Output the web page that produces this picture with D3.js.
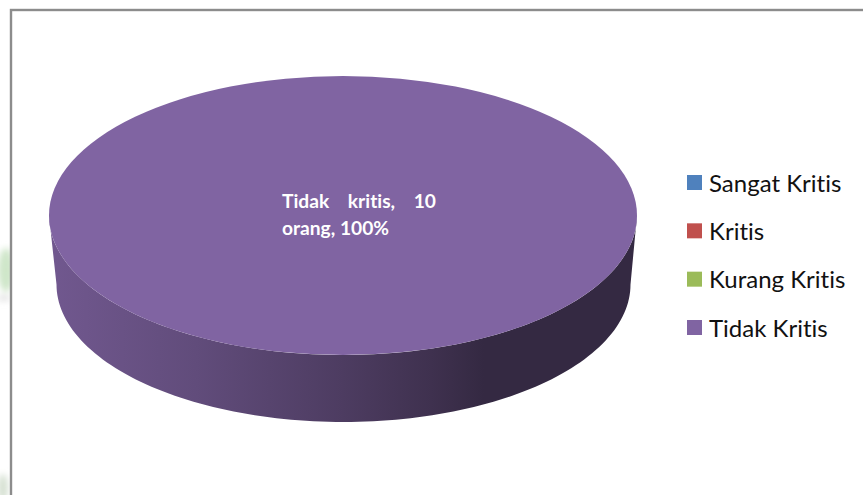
<!DOCTYPE html>
<html>
<head>
<meta charset="utf-8">
<style>
  html, body { margin: 0; padding: 0; background: #fff; overflow: hidden; }
  svg { display: block; }
  text { font-family: Lato, "Open Sans", sans-serif; font-variant-ligatures: none; }
</style>
<script src="https://cdn.jsdelivr.net/npm/d3@7/dist/d3.min.js"></script>
</head>
<body>
<svg id="chart" width="863" height="495"></svg>
<script>
// Critical-thinking categories and respondent counts
const categories = ["Sangat Kritis", "Kritis", "Kurang Kritis", "Tidak Kritis"];
const counts = [0, 0, 0, 10];
const colors = ["#4f81bd", "#c0504d", "#9bbb59", "#8064a2"];
const dataLabelLines = ["Tidak kritis, 10", "orang, 100%"];

const svg = d3.select("#chart");

// Faint decoration showing outside the chart frame
const defs = svg.append("defs");
defs.append("filter").attr("id", "soft").attr("x", "-60%").attr("y", "-60%")
  .attr("width", "220%").attr("height", "220%")
  .append("feGaussianBlur").attr("stdDeviation", 3);
const deco = svg.append("g").attr("filter", "url(#soft)");
deco.append("ellipse").attr("cx", 6).attr("cy", 270).attr("rx", 8).attr("ry", 22).attr("fill", "#cfe6c9");
deco.append("ellipse").attr("cx", 4).attr("cy", 298).attr("rx", 7).attr("ry", 3).attr("fill", "#e2e2e2");
deco.append("ellipse").attr("cx", 3).attr("cy", 488).attr("rx", 5).attr("ry", 14).attr("fill", "#d5e0d1");

// Chart frame: top and left edges are visible, the rest runs off the page
svg.append("rect").attr("x", 11).attr("y", 10).attr("width", 900).attr("height", 600)
  .attr("fill", "#fff").attr("stroke", "#8c8c8c").attr("stroke-width", 2.4);

// Pie geometry: the disc is an ellipse, its lower rim is slightly narrower
const top_ = { cx: 343, cy: 215.5, rx: 294, ry: 139.5 };
const rim = { cx: 343.5, cy: 284.5, rx: 287, ry: 137.5 };

const pie = d3.pie().sort(null).value(d => d);
const slices = pie(counts);
const radius = d3.scaleLinear().domain([0, 1]).range([0, top_.rx]);
const arc = d3.arc().innerRadius(0).outerRadius(radius(1));

// Wall gradient runs from the lit left side to the shaded right side
const wallShades = [
  { offset: 0, k: 0.88 },
  { offset: 0.25, k: 0.76 },
  { offset: 0.5, k: 0.6 },
  { offset: 0.65, k: 0.49 },
  { offset: 0.74, k: 0.41 },
  { offset: 1, k: 0.41 }
];

function wallPath(slice) {
  const p = d3.path();
  // Only the front half of the disc (right through bottom to left) shows a wall
  const a0 = Math.max(slice.startAngle, Math.PI / 2);
  const a1 = Math.min(slice.endAngle, Math.PI * 1.5);
  if (a1 <= a0) return null;
  const angles = d3.range(0, 121).map(i => a0 + (a1 - a0) * i / 120);
  angles.forEach((a, i) => {
    const x = top_.cx + top_.rx * Math.sin(a);
    const y = top_.cy - top_.ry * Math.cos(a);
    if (i) p.lineTo(x, y); else p.moveTo(x, y);
  });
  angles.slice().reverse().forEach(a => {
    p.lineTo(rim.cx + rim.rx * Math.sin(a), rim.cy - rim.ry * Math.cos(a));
  });
  p.closePath();
  return p.toString();
}

slices.forEach((s, i) => {
  if (s.value === 0) return;
  const c = d3.rgb(colors[i]);
  const id = "wall" + i;
  const grad = defs.append("linearGradient").attr("id", id)
    .attr("gradientUnits", "userSpaceOnUse")
    .attr("x1", top_.cx - top_.rx).attr("x2", top_.cx + top_.rx).attr("y1", 0).attr("y2", 0);
  wallShades.forEach(w => {
    grad.append("stop").attr("offset", w.offset)
      .attr("stop-color", d3.rgb(c.r * w.k, c.g * w.k, c.b * w.k).formatHex());
  });
  svg.append("path").attr("d", wallPath(s)).attr("fill", `url(#${id})`);
});

// Top face: the d3 arcs are flattened into the ellipse
svg.append("g")
  .attr("transform", `translate(${top_.cx},${top_.cy}) scale(1,${top_.ry / top_.rx})`)
  .selectAll("path")
  .data(slices.filter(s => s.value > 0))
  .join("path")
  .attr("d", arc)
  .attr("fill", d => colors[d.index]);

// Data label
svg.append("g").selectAll("text")
  .data(dataLabelLines)
  .join("text")
  .attr("x", 282)
  .attr("y", (d, i) => 208 + i * 27)
  .attr("fill", "#fff")
  .attr("font-size", 19.2)
  .attr("font-weight", 700)
  .attr("word-spacing", (d, i) => i === 0 ? 14 : 0)
  .text(d => d);

// Legend
const legendY = d3.scalePoint().domain(categories).range([182.5, 327.5]);
const legend = svg.append("g").selectAll("g")
  .data(categories)
  .join("g")
  .attr("transform", d => `translate(687,${legendY(d)})`);
legend.append("rect")
  .attr("x", 0).attr("y", -7.5).attr("width", 15).attr("height", 15)
  .attr("fill", (d, i) => colors[i]);
legend.append("text")
  .attr("x", 22).attr("y", 9)
  .attr("fill", "#111")
  .attr("font-size", 24)
  .text(d => d);
</script>
</body>
</html>
